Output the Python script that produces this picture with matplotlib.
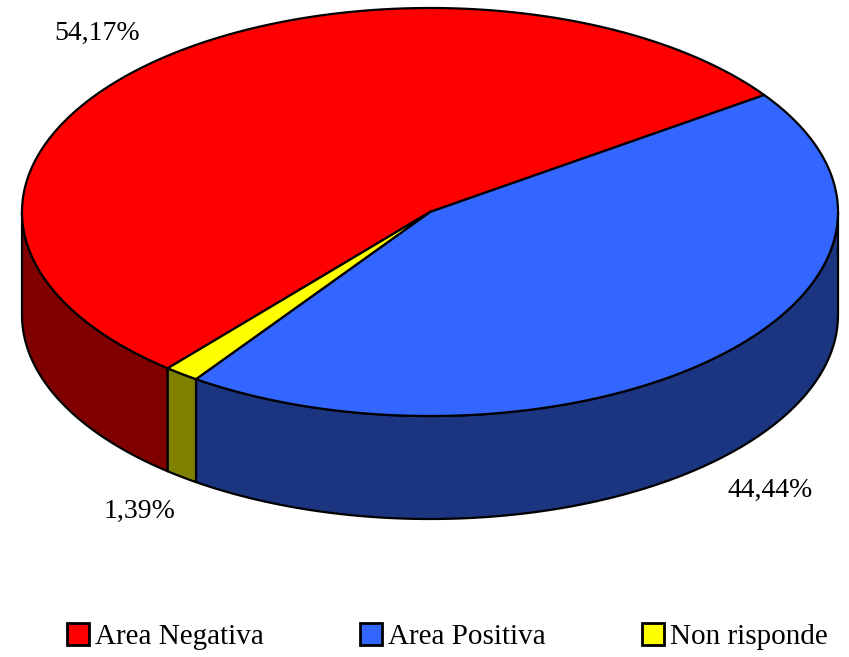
import numpy as np
import matplotlib.pyplot as plt
from matplotlib.patches import Polygon, Patch

labels = ["Area Negativa", "Area Positiva", "Non risponde"]
values = [54.17, 44.44, 1.39]
label_text = ["54,17%", "44,44%", "1,39%"]
top_colors = ["#FF0000", "#3366FF", "#FFFF00"]
side_colors = ["#800000", "#1B3580", "#808000"]
label_pos = [(97, 33), (770, 490), (140, 511)]

W, H = 849, 657
cx, cy = 430, 212      # centre of top ellipse (pixels)
rx, ry = 408, 204      # radii
depth = 103            # height of the side wall
start = 230            # first slice starts here, going clockwise

fig = plt.figure(figsize=(W / 100, H / 100), dpi=100)
ax = fig.add_axes([0, 0, 1, 1])
ax.set_xlim(0, W)
ax.set_ylim(H, 0)
ax.axis("off")


def ell(theta, dz=0):
    t = np.radians(theta)
    return np.column_stack([cx + rx * np.cos(t), cy - ry * np.sin(t) + dz])


# slice intervals (clockwise from start)
fr = np.array(values) / sum(values) * 360
ends = start - np.cumsum(fr)
starts = np.concatenate([[start], ends[:-1]])

# side walls: only the front half (sin < 0) is visible
for a0, a1, sc in zip(ends, starts, side_colors):
    for lo, hi in [(-180, 0), (180, 360)]:
        s, e = max(a0, lo), min(a1, hi)
        if e <= s:
            continue
        th = np.linspace(s, e, 100)
        top = ell(th)
        bot = ell(th[::-1], depth)
        ax.add_patch(Polygon(np.vstack([top, bot]), closed=True,
                             facecolor=sc, edgecolor="black", lw=1.6,
                             joinstyle="round"))

# top faces
for a0, a1, tc in zip(ends, starts, top_colors):
    th = np.linspace(a0, a1, 300)
    pts = np.vstack([[cx, cy], ell(th)])
    ax.add_patch(Polygon(pts, closed=True, facecolor=tc, edgecolor="black",
                         lw=1.6, joinstyle="round"))

for txt, (x, y) in zip(label_text, label_pos):
    ax.text(x, y, txt, ha="center", va="center", fontsize=20,
            family="Liberation Serif")

handles = [Patch(facecolor=c, edgecolor="black", lw=2) for c in top_colors]
fig.legend(handles, labels, loc="center", bbox_to_anchor=(0.527, 0.031),
           ncol=3, frameon=False, prop={"family": "Liberation Serif", "size": 21},
           handlelength=0.75, handleheight=0.75, handletextpad=0.2,
           columnspacing=3.3)

fig.savefig("out.png", dpi=100)
